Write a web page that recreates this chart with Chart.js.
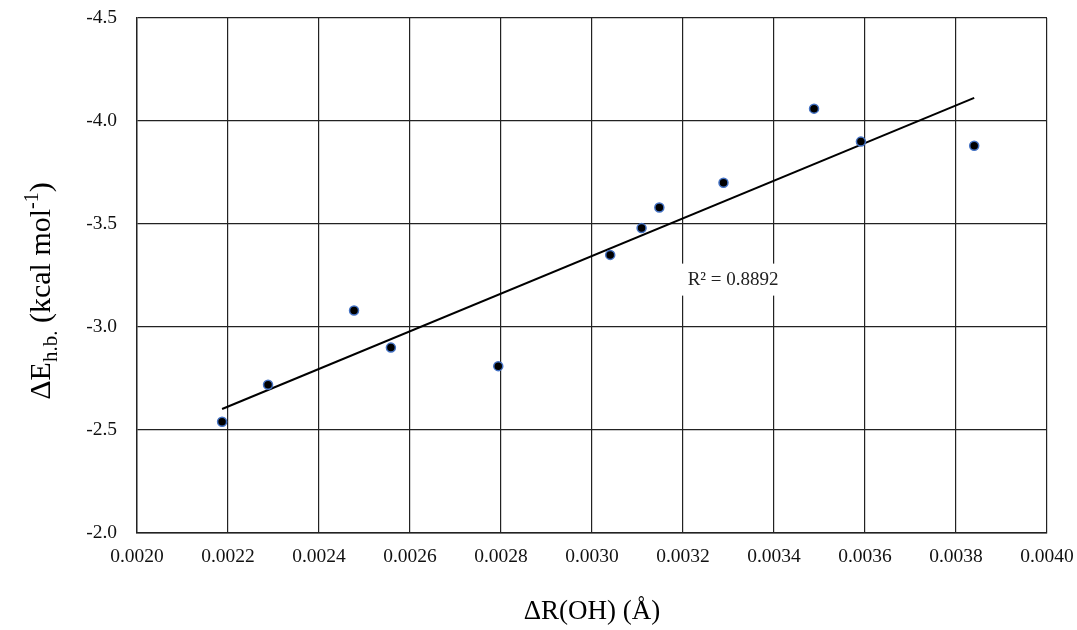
<!DOCTYPE html>
<html>
<head>
<meta charset="utf-8">
<script src="https://cdn.jsdelivr.net/npm/chart.js@4.4.1/dist/chart.umd.min.js"></script>
<style>
  html, body { margin: 0; padding: 0; background: #fff; }
  #wrap { width: 1077px; height: 630px; }
</style>
</head>
<body>
<div id="wrap"><canvas id="scatter"></canvas></div>
<script>
// O-H bond elongation (Å) vs hydrogen-bond energy (kcal/mol)
const dROH = [0.002187, 0.002288, 0.002477, 0.002558, 0.002794, 0.003040,
              0.003109, 0.003148, 0.003289, 0.003488, 0.003591, 0.003840];
const dEhb = [-2.54, -2.72, -3.08, -2.90, -2.81, -3.35,
              -3.48, -3.58, -3.70, -4.06, -3.90, -3.88];

// linear trendline end points
const trendX = [0.002187, 0.003840];
const trendY = [-2.602, -4.112];
const rSquared = '0.8892';
const rLabelAt = [0.00331, -3.23];

const FONT = '"Liberation Serif", "Times New Roman", serif';

const points = dROH.map((x, i) => ({ x: x, y: dEhb[i] }));
const trend = trendX.map((x, i) => ({ x: x, y: trendY[i] }));

// axis titles with sub/superscripts, plus the R² box
const labels = {
  id: 'labels',
  afterDatasetsDraw(chart) {
    const ctx = chart.ctx;
    const xs = chart.scales.x, ys = chart.scales.y;

    // R² label on white background
    const lx = xs.getPixelForValue(rLabelAt[0]);
    const ly = ys.getPixelForValue(rLabelAt[1]);
    ctx.save();
    ctx.font = '19px ' + FONT;
    const txt = 'R² = ' + rSquared;
    const w = ctx.measureText(txt).width;
    ctx.fillStyle = '#fff';
    ctx.fillRect(lx - w / 2 - 6, ly - 16, w + 12, 32);
    ctx.fillStyle = '#222';
    ctx.textAlign = 'center';
    ctx.textBaseline = 'middle';
    ctx.fillText(txt, lx, ly);
    ctx.restore();
  },
  afterDraw(chart) {
    const ctx = chart.ctx;
    const area = chart.chartArea;

    function drawRich(parts, cx, cy, angle) {
      ctx.save();
      ctx.translate(cx, cy);
      ctx.rotate(angle);
      ctx.textBaseline = 'alphabetic';
      ctx.fillStyle = '#000';
      let total = 0;
      parts.forEach(p => {
        ctx.font = p.size + 'px ' + FONT;
        p.w = ctx.measureText(p.t).width;
        total += p.w;
      });
      let x = -total / 2;
      parts.forEach(p => {
        ctx.font = p.size + 'px ' + FONT;
        ctx.fillText(p.t, x, 10 + (p.dy || 0));
        x += p.w;
      });
      ctx.restore();
    }

    drawRich([{ t: 'ΔR(OH) (Å)', size: 27 }],
      (area.left + area.right) / 2, 609, 0);

    drawRich([
      { t: 'ΔE', size: 30 },
      { t: 'h.b.', size: 21, dy: 7 },
      { t: ' (kcal mol', size: 30 },
      { t: '-1', size: 20, dy: -12 },
      { t: ')', size: 30 }
    ], 40, 291, -Math.PI / 2);
  }
};

// fixed axis box sizes, no extra room for overhanging tick labels
function fixBox(size) {
  return function (scale) {
    if (scale.isHorizontal()) scale.height = size; else scale.width = size;
    scale.paddingTop = 0;
    scale.paddingBottom = 0;
    scale.paddingLeft = 0;
    scale.paddingRight = 0;
  };
}

new Chart(document.getElementById('scatter'), {
  type: 'scatter',
  data: {
    datasets: [
      {
        label: 'ΔE',
        data: points,
        pointRadius: 4.5,
        pointBackgroundColor: '#000',
        pointBorderColor: '#4472c4',
        pointBorderWidth: 1.5,
        order: 1
      },
      {
        label: 'trend',
        type: 'line',
        data: trend,
        borderColor: '#000',
        borderWidth: 2,
        pointRadius: 0,
        fill: false,
        order: 2
      }
    ]
  },
  options: {
    responsive: true,
    maintainAspectRatio: false,
    animation: false,
    layout: { padding: { top: 18, right: 30, bottom: 0, left: 0 } },
    plugins: {
      legend: { display: false },
      tooltip: { enabled: false }
    },
    scales: {
      x: {
        type: 'linear',
        min: 0.002,
        max: 0.004,
        afterFit: fixBox(97),
        ticks: {
          stepSize: 0.0002,
          padding: 12,
          color: '#111',
          font: { family: FONT, size: 19.5 },
          callback: v => v.toFixed(4)
        },
        grid: { color: '#222', lineWidth: 1.2, drawTicks: false },
        border: { color: '#222', width: 1.4 }
      },
      y: {
        type: 'linear',
        min: -4.5,
        max: -2.0,
        reverse: true,
        afterFit: fixBox(137),
        ticks: {
          stepSize: 0.5,
          padding: 20,
          color: '#111',
          font: { family: FONT, size: 19.5 },
          callback: v => v.toFixed(1)
        },
        grid: { color: '#222', lineWidth: 1.2, drawTicks: false },
        border: { color: '#222', width: 1.4 }
      }
    }
  },
  plugins: [labels]
});
</script>
</body>
</html>
